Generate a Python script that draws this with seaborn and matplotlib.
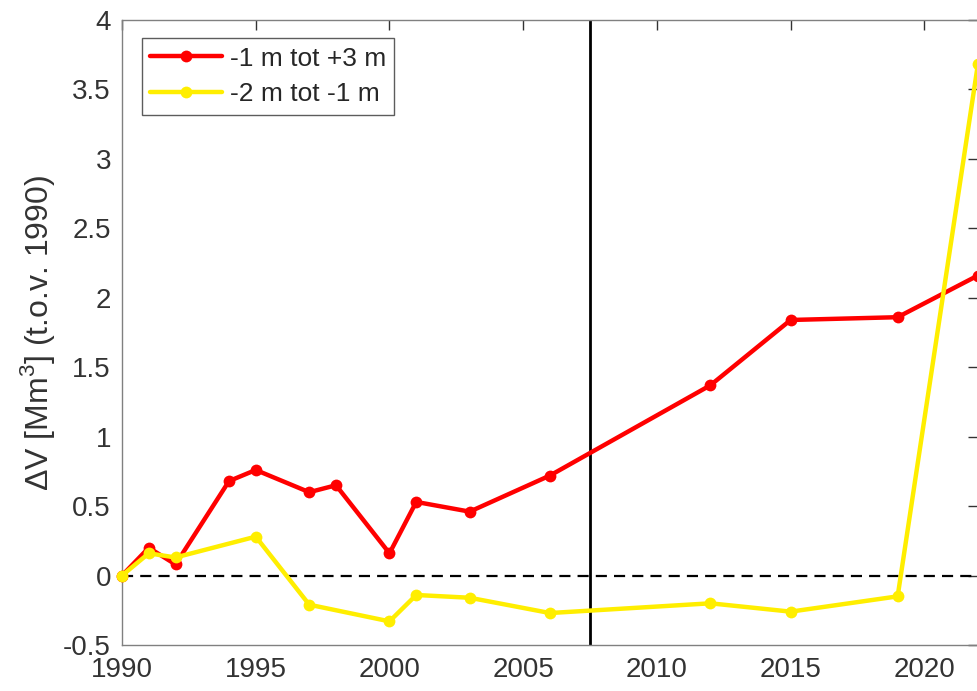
import pandas as pd
import matplotlib
matplotlib.use("Agg")
import matplotlib.pyplot as plt
import seaborn as sns

# values
years_a = [1990, 1991, 1992, 1994, 1995, 1997, 1998, 2000, 2001, 2003, 2006, 2012, 2015, 2019, 2022]
dv_a = [0.0, 0.20, 0.08, 0.68, 0.76, 0.60, 0.65, 0.16, 0.53, 0.46, 0.72, 1.37, 1.84, 1.86, 2.16]
years_b = [1990, 1991, 1992, 1995, 1997, 2000, 2001, 2003, 2006, 2012, 2015, 2019, 2022]
dv_b = [0.0, 0.16, 0.13, 0.28, -0.21, -0.33, -0.14, -0.16, -0.27, -0.20, -0.26, -0.15, 3.68]
series_names = ["-1 m tot +3 m", "-2 m tot -1 m"]
series_colors = ["#ff0000", "#ffee00"]
marker_year = 2007.5


def main():
    sns.set_theme(style="white")
    plt.rcParams['font.family'] = ['Liberation Sans', 'DejaVu Sans']
    plt.rcParams['mathtext.fontset'] = 'custom'
    plt.rcParams['mathtext.rm'] = 'Liberation Sans'
    plt.rcParams['xtick.direction'] = 'in'
    plt.rcParams['ytick.direction'] = 'in'

    df = pd.concat([
        pd.DataFrame({"jaar": years_a, "dV": dv_a, "reeks": series_names[0]}),
        pd.DataFrame({"jaar": years_b, "dV": dv_b, "reeks": series_names[1]}),
    ])

    fig = plt.figure(figsize=(9.77, 6.91), dpi=100)
    ax = fig.add_axes([0.1249, 0.0666, 0.876, 0.9045])

    ax.axhline(0, color='black', linestyle='--', linewidth=1.6, dashes=(5, 3.2), zorder=1)
    ax.axvline(marker_year, color='black', linewidth=2, zorder=1)

    sns.lineplot(data=df, x="jaar", y="dV", hue="reeks", palette=series_colors,
                 marker='o', markersize=8.5, markeredgewidth=0, linewidth=3.2,
                 ax=ax, zorder=3, clip_on=False)

    ax.set_xlim(1990, 2022)
    ax.set_ylim(-0.5, 4)
    ax.set_xticks(range(1990, 2021, 5))
    ax.set_yticks([-0.5, 0, 0.5, 1, 1.5, 2, 2.5, 3, 3.5, 4])
    ax.set_yticklabels(["-0.5", "0", "0.5", "1", "1.5", "2", "2.5", "3", "3.5", "4"])
    ax.tick_params(axis='both', labelsize=20, colors='#333333', length=7, width=1,
                   top=True, right=True)
    ax.tick_params(axis='x', pad=9)
    ax.tick_params(axis='y', pad=8)
    for sp in ax.spines.values():
        sp.set_color('#808080')
        sp.set_linewidth(1)

    ax.set_xlabel("")
    ax.set_ylabel("ΔV [Mm$^{\\mathrm{3}}$] (t.o.v. 1990)", fontsize=23, color='#333333', labelpad=4)

    leg = ax.legend(loc='upper left', fontsize=19, frameon=True, fancybox=False,
                    edgecolor='#333333', handlelength=2.7, borderpad=0.32,
                    labelspacing=0.45, handletextpad=0.3, borderaxespad=0,
                    bbox_to_anchor=(0.0234, 0.971))
    leg.get_frame().set_linewidth(1)

    fig.savefig("out.png", dpi=100)
    plt.close(fig)


if __name__ == "__main__":
    main()
